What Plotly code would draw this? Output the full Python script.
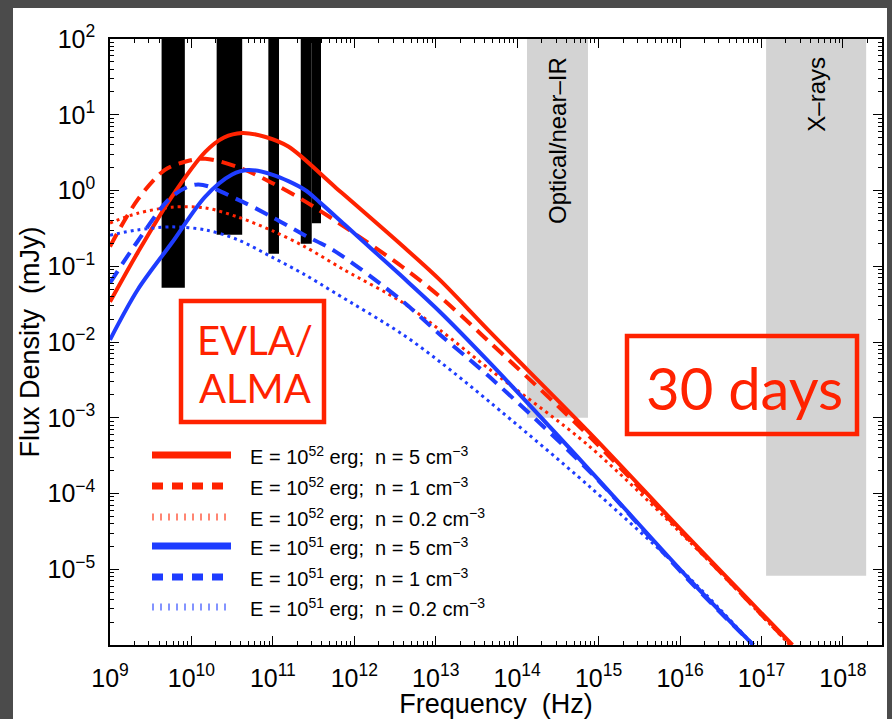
import numpy as np
import plotly.graph_objects as go

# ---- model afterglow spectra at t = 30 days -------------------------------
# log10(frequency / Hz) and log10(flux density / mJy)
lognu_e52_n5 = [9.00, 9.34, 9.76, 10.17, 10.40, 10.62, 10.90, 11.19, 11.76, 12.58, 13.05, 13.66, 14.89, 16.12, 17.38]
logf_e52_n5 = [-1.47, -0.82, -0.08, 0.51, 0.70, 0.76, 0.71, 0.58, 0.05, -0.72, -1.18, -1.86, -3.20, -4.60, -6.00]

lognu_e52_n1 = [9.00, 9.34, 9.67, 9.92, 10.17, 10.57, 10.99, 11.39, 11.88, 12.58, 13.05, 13.66, 14.89, 16.12, 17.36]
logf_e52_n1 = [-0.74, -0.12, 0.27, 0.38, 0.42, 0.31, 0.10, -0.14, -0.48, -1.00, -1.40, -2.00, -3.25, -4.62, -6.00]

lognu_e52_n02 = [9.00, 9.34, 9.76, 10.17, 10.57, 10.99, 11.39, 11.88, 12.58, 13.05, 13.66, 14.89, 16.12, 17.35]
logf_e52_n02 = [-0.43, -0.30, -0.22, -0.23, -0.35, -0.53, -0.74, -1.05, -1.47, -1.84, -2.36, -3.38, -4.64, -6.00]

lognu_e51_n5 = [9.00, 9.34, 9.76, 10.17, 10.50, 10.69, 10.99, 11.39, 11.58, 11.88, 12.58, 13.05, 13.66, 14.89, 16.12, 16.90]
logf_e51_n5 = [-1.97, -1.31, -0.69, -0.08, 0.21, 0.27, 0.21, 0.01, -0.16, -0.45, -1.13, -1.60, -2.27, -3.69, -5.14, -6.00]

lognu_e51_n1 = [9.00, 9.34, 9.76, 10.08, 10.57, 10.99, 11.39, 11.76, 12.58, 13.05, 13.66, 14.89, 16.12, 16.90]
logf_e51_n1 = [-1.22, -0.67, -0.08, 0.08, -0.12, -0.35, -0.59, -0.80, -1.45, -1.90, -2.46, -3.71, -5.16, -6.00]

lognu_e51_n02 = [9.00, 9.34, 9.76, 10.17, 10.57, 10.99, 11.39, 11.76, 12.58, 13.05, 13.66, 14.89, 16.12, 16.90]
logf_e51_n02 = [-0.59, -0.52, -0.48, -0.52, -0.65, -0.88, -1.11, -1.35, -1.89, -2.26, -2.79, -3.91, -5.12, -6.00]

series_labels = [
    "E = 10<sup>52</sup> erg;  n = 5 cm<sup>−3</sup>",
    "E = 10<sup>52</sup> erg;  n = 1 cm<sup>−3</sup>",
    "E = 10<sup>52</sup> erg;  n = 0.2 cm<sup>−3</sup>",
    "E = 10<sup>51</sup> erg;  n = 5 cm<sup>−3</sup>",
    "E = 10<sup>51</sup> erg;  n = 1 cm<sup>−3</sup>",
    "E = 10<sup>51</sup> erg;  n = 0.2 cm<sup>−3</sup>",
]

# ---- EVLA / ALMA sensitivity bands (frequency edges in Hz, floor in mJy) ---
radio_lo = [4.3e9, 2.04e10, 8.8e10, 2.2e11, 3.0e11]
radio_hi = [8.3e9, 4.2e10, 1.19e11, 3.0e11, 3.9e11]
radio_floor = [0.052, 0.26, 0.146, 0.198, 0.37]

# ---- optical / X-ray windows (Hz) and their lower flux limit (mJy) --------
band_names = ["Optical/near–IR", "X–rays"]
band_lo = [1.32e14, 1.14e17]
band_hi = [7.4e14, 1.93e18]
band_floor = [1.0e-3, 8.2e-6]

# ---- axes -----------------------------------------------------------------
x_decades = list(range(9, 19))
y_decades = list(range(-6, 3))
FLUX_TOP = 1e2

RED = "#ff2200"
BLUE = "#1e3cff"
W, H = 892, 719
L, R, T, B = 110, 10, 39, 74
PW, PH = W - L - R, H - T - B

styles = [
    (RED, 4, "solid"), (RED, 4, "14px,8px"), (RED, 3, "3px,4px"),
    (BLUE, 4, "solid"), (BLUE, 4, "14px,8px"), (BLUE, 3, "3px,4px"),
]
curves = [
    (lognu_e52_n5, logf_e52_n5), (lognu_e52_n1, logf_e52_n1), (lognu_e52_n02, logf_e52_n02),
    (lognu_e51_n5, logf_e51_n5), (lognu_e51_n1, logf_e51_n1), (lognu_e51_n02, logf_e51_n02),
]


def sup(e):
    s = str(e).replace("-", "−")
    return f"10<sup>{s}</sup>"


def px_x(x):
    return (x - L) / PW


def px_y(y):
    return (H - B - y) / PH


fig = go.Figure()

# grey spectral windows
for lo, hi, fl in zip(band_lo, band_hi, band_floor):
    fig.add_trace(go.Scatter(
        x=[lo, hi, hi, lo, lo], y=[fl, fl, FLUX_TOP, FLUX_TOP, fl],
        mode="lines", fill="toself", fillcolor="#d3d3d3",
        line=dict(width=0, color="#d3d3d3"), hoverinfo="skip", showlegend=False))

# black radio bands
for lo, hi, fl in zip(radio_lo, radio_hi, radio_floor):
    fig.add_trace(go.Scatter(
        x=[lo, hi, hi, lo, lo], y=[fl, fl, FLUX_TOP, FLUX_TOP, fl],
        mode="lines", fill="toself", fillcolor="black",
        line=dict(width=0, color="black"), hoverinfo="skip", showlegend=False))

# model spectra
for (lx, lf), (col, wd, dash), name in zip(curves, styles, series_labels):
    fig.add_trace(go.Scatter(
        x=10 ** np.array(lx), y=10 ** np.array(lf), mode="lines", name=name,
        line=dict(color=col, width=wd, dash=dash, shape="spline", smoothing=0.9),
        showlegend=False))

shapes = [
    # white page behind the axes
    dict(type="rect", xref="paper", yref="paper", layer="below",
         x0=px_x(13), x1=px_x(887), y0=px_y(725), y1=px_y(8),
         fillcolor="white", line=dict(width=0)),
]

annotations = []

# legend drawn as line samples with labels
row_y = [455, 486, 517, 546, 577, 607]
legend_styles = [
    (RED, 7, "solid", 1.0), (RED, 7, "11px,9px", 1.0), (RED, 7, "2px,6px", 0.55),
    (BLUE, 7, "solid", 1.0), (BLUE, 7, "11px,9px", 1.0), (BLUE, 7, "2px,6px", 0.55),
]
for yy, (col, wd, dash, op), name in zip(row_y, legend_styles, series_labels):
    shapes.append(dict(type="line", xref="paper", yref="paper",
                       x0=px_x(152), x1=px_x(231), y0=px_y(yy), y1=px_y(yy),
                       line=dict(color=col, width=wd, dash=dash), opacity=op))
    annotations.append(dict(text=name, xref="paper", yref="paper",
                            x=px_x(248), y=px_y(yy), xanchor="left", yanchor="middle",
                            showarrow=False, font=dict(family="Liberation Sans", size=20, color="black")))


def px_rect(x0, x1, y0, y1):
    return dict(type="rect", xref="paper", yref="paper",
                x0=px_x(x0), x1=px_x(x1), y0=px_y(y1), y1=px_y(y0),
                line=dict(color=RED, width=4.5), fillcolor="rgba(0,0,0,0)")


# instrument / epoch boxes
shapes.append(px_rect(181, 324, 301, 422))
shapes.append(px_rect(627, 857, 336, 434))

box_font = dict(family="Lato", color=RED)
annotations += [
    dict(text="EVLA/", xref="paper", yref="paper", x=px_x(255), y=px_y(340),
         showarrow=False, font=dict(size=40, **box_font), xanchor="center", yanchor="middle"),
    dict(text="ALMA", xref="paper", yref="paper", x=px_x(255), y=px_y(388),
         showarrow=False, font=dict(size=40, **box_font), xanchor="center", yanchor="middle"),
    dict(text="30 days", xref="paper", yref="paper", x=px_x(744), y=px_y(388),
         showarrow=False, font=dict(size=58, **box_font), xanchor="center", yanchor="middle"),
]

# window labels
for name, lo, hi in zip(band_names, band_lo, band_hi):
    annotations.append(dict(text=name, xref="x", yref="paper",
                            x=(np.log10(lo) + np.log10(hi)) / 2, y=1, yshift=-16,
                            xanchor="center", yanchor="top", textangle=-90, showarrow=False,
                            font=dict(family="Liberation Sans", size=24, color="black")))

x_minor = [m * 10.0 ** e for e in x_decades for m in range(2, 10)]
y_minor = [m * 10.0 ** e for e in y_decades[:-1] for m in range(2, 10)]

tickfont = dict(family="Liberation Sans", size=25, color="black")
axis_common = dict(type="log", ticks="inside", ticklen=9, tickwidth=1, tickcolor="black",
                   showline=True, linecolor="black", linewidth=1.5, mirror="allticks",
                   showgrid=False, zeroline=False, tickfont=tickfont, automargin=False)
title_font = dict(family="Liberation Sans", size=27, color="black")

fig.update_layout(
    width=W, height=H,
    margin=dict(l=L, r=R, t=T, b=B, pad=0, autoexpand=False),
    paper_bgcolor="#4b4b4b", plot_bgcolor="white",
    shapes=shapes, annotations=annotations,
    xaxis=dict(range=[9, 18.48], tickmode="array",
               tickvals=[10.0 ** e for e in x_decades],
               ticktext=[sup(e) for e in x_decades],
               ticklabelstandoff=10,
               minor=dict(tickmode="array", tickvals=x_minor, ticks="inside", ticklen=4,
                          tickcolor="black", showgrid=False),
               title=dict(text="Frequency\u00a0\u00a0(Hz)", standoff=1, font=title_font),
               **axis_common),
    yaxis=dict(range=[-6, 2], tickmode="array",
               tickvals=[10.0 ** e for e in y_decades],
               ticktext=["" if e == -6 else sup(e) for e in y_decades],
               ticklabelstandoff=8,
               minor=dict(tickmode="array", tickvals=y_minor, ticks="inside", ticklen=4,
                          tickcolor="black", showgrid=False),
               title=dict(text="Flux Density\u00a0\u00a0(mJy)", standoff=0, font=title_font),
               **axis_common),
)

fig.write_html("out.html")
